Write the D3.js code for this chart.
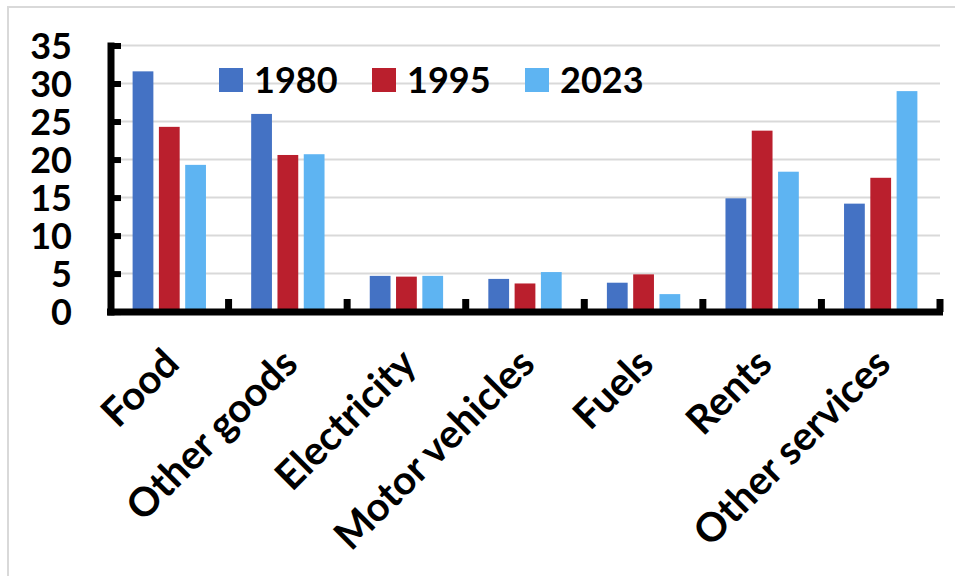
<!DOCTYPE html>
<html>
<head>
<meta charset="utf-8">
<script src="https://cdn.jsdelivr.net/npm/d3@7"></script>
<style>
  html, body { margin: 0; padding: 0; background: #fff; }
  svg { display: block; font-family: Lato, "Open Sans", sans-serif; font-weight: 700; }
</style>
</head>
<body>
<svg id="chart" width="955" height="576"></svg>
<script>
// Consumption shares by category, per year
const categories = ["Food", "Other goods", "Electricity", "Motor vehicles", "Fuels", "Rents", "Other services"];
const years = ["1980", "1995", "2023"];
const values1980 = [31.6, 26.0, 4.7, 4.3, 3.8, 14.9, 14.2];
const values1995 = [24.3, 20.6, 4.6, 3.7, 4.9, 23.8, 17.6];
const values2023 = [19.3, 20.7, 4.7, 5.2, 2.3, 18.4, 29.0];
const yTicks = [0, 5, 10, 15, 20, 25, 30, 35];
const colors = ["#4472C4", "#BA1F2D", "#5EB4F2"];

const seriesValues = [values1980, values1995, values2023];
const rows = categories.map((c, i) => ({
  category: c,
  bars: years.map((y, j) => ({ year: y, value: seriesValues[j][i] }))
}));

const svg = d3.select("#chart");

// light frame along the top and left edges
svg.append("path")
  .attr("d", "M8,576V7H955")
  .attr("fill", "none")
  .attr("stroke", "#d9d9d9")
  .attr("stroke-width", 2);

const x0 = d3.scaleBand().domain(categories).range([110, 940]).padding(0);
const x1 = d3.scaleBand().domain(years).range([0, x0.bandwidth()])
  .paddingInner(0.21).paddingOuter(0.86);
const y = d3.scaleLinear().domain([0, 35]).range([311.6, 45.5]);
const color = d3.scaleOrdinal().domain(years).range(colors);

// horizontal gridlines
svg.append("g")
  .selectAll("line")
  .data(yTicks.filter(t => t > 0))
  .join("line")
  .attr("x1", 114).attr("x2", 940)
  .attr("y1", d => y(d)).attr("y2", d => y(d))
  .attr("stroke", "#d9d9d9")
  .attr("stroke-width", 2);

// bars
const groups = svg.append("g")
  .selectAll("g")
  .data(rows)
  .join("g")
  .attr("transform", d => `translate(${x0(d.category)},0)`);

groups.selectAll("rect")
  .data(d => d.bars)
  .join("rect")
  .attr("x", d => x1(d.year))
  .attr("width", x1.bandwidth())
  .attr("y", d => y(d.value))
  .attr("height", d => y(0) - y(d.value))
  .attr("fill", d => color(d.year));

// y axis with inward ticks
const yAxis = svg.append("g")
  .attr("transform", "translate(111,0)")
  .call(d3.axisLeft(y).tickValues(yTicks).tickSize(-10).tickSizeOuter(0).tickPadding(39));
yAxis.select(".domain").attr("stroke", "#000").attr("stroke-width", 7)
  .attr("d", `M0,${y(35) - 3}V${y(0) + 4}`);
yAxis.selectAll(".tick line").attr("stroke", "#000").attr("stroke-width", 6);
yAxis.selectAll(".tick text")
  .attr("fill", "#000")
  .attr("font-size", 36)
  .attr("font-family", "Lato, 'Open Sans', sans-serif")
  .attr("font-weight", 700)
  .attr("dy", "0.36em");

// x axis line with category boundary ticks
const xAxisY = 312;
svg.append("line")
  .attr("x1", 107).attr("x2", 943)
  .attr("y1", xAxisY).attr("y2", xAxisY)
  .attr("stroke", "#000").attr("stroke-width", 7);
svg.append("g")
  .selectAll("line")
  .data(categories)
  .join("line")
  .attr("x1", d => x0(d) + x0.step())
  .attr("x2", d => x0(d) + x0.step())
  .attr("y1", xAxisY).attr("y2", xAxisY - 13)
  .attr("stroke", "#000").attr("stroke-width", 7);

// rotated category labels
const xAxis = svg.append("g")
  .attr("transform", `translate(0,${xAxisY})`)
  .call(d3.axisBottom(x0).tickSize(0));
xAxis.select(".domain").remove();
xAxis.selectAll(".tick text")
  .attr("fill", "#000")
  .attr("font-size", 40)
  .attr("font-family", "Lato, 'Open Sans', sans-serif")
  .attr("font-weight", 700)
  .attr("text-anchor", "end")
  .attr("dy", 0)
  .attr("y", 0)
  .attr("transform", "translate(12,54) rotate(-45)");

// legend
const legendX = [219, 372, 525];
const legend = svg.append("g")
  .selectAll("g")
  .data(years)
  .join("g")
  .attr("transform", (d, i) => `translate(${legendX[i]},68)`);
legend.append("rect")
  .attr("width", 24).attr("height", 24)
  .attr("fill", d => color(d));
legend.append("text")
  .attr("x", 35).attr("y", 25)
  .attr("font-size", 36)
  .attr("fill", "#000")
  .text(d => d);
</script>
</body>
</html>
